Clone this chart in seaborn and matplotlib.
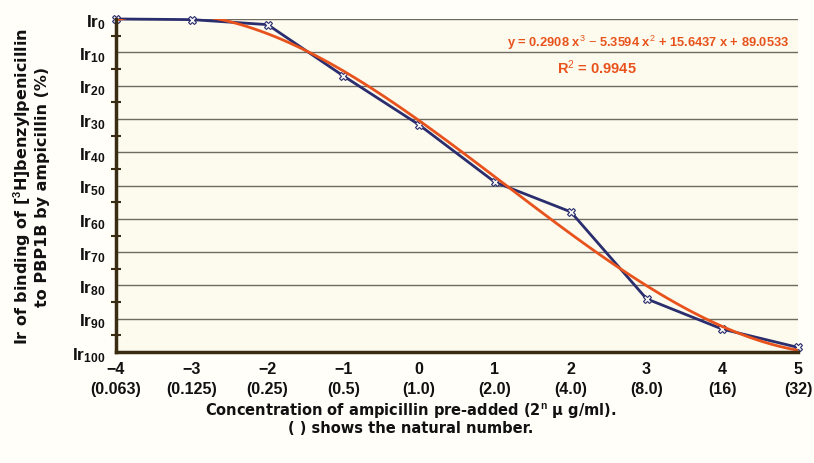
import matplotlib
matplotlib.use("Agg")
import matplotlib.pyplot as plt
import seaborn as sns
import numpy as np
import pandas as pd
from matplotlib.ticker import MultipleLocator

# log2 of ampicillin concentration and Ir (%)
conc_n = [-4, -3, -2, -1, 0, 1, 2, 3, 4, 5]
conc_nat = ["0.063", "0.125", "0.25", "0.5", "1.0", "2.0", "4.0", "8.0", "16", "32"]
ir_val = [0.0, 0.2, 1.7, 17.1, 31.8, 49.0, 57.9, 84.0, 93.1, 98.6]
ir_ticks = [0, 10, 20, 30, 40, 50, 60, 70, 80, 90, 100]

eq_text = r"y = 0.2908 x$^3$ $-$ 5.3594 x$^2$ + 15.6437 x + 89.0533"
r2_text = r"R$^2$ = 0.9945"

sns.set_style("white")
plt.rcParams['font.family'] = ['Liberation Sans', 'DejaVu Sans']
plt.rcParams['mathtext.fontset'] = 'custom'
plt.rcParams['mathtext.rm'] = 'Liberation Sans'
plt.rcParams['mathtext.bf'] = 'Liberation Sans:bold'
plt.rcParams['mathtext.it'] = 'Liberation Sans:italic'

df = pd.DataFrame({"n": conc_n, "ir": ir_val})

fig = plt.figure(figsize=(8.14, 4.64), dpi=100, facecolor="#fffef8")
ax = fig.add_axes([0.1425, 0.239, 0.838, 0.718])
ax.set_facecolor("#fcfbee")

navy = "#2b2e6e"
orange = "#e8521c"
axcol = "#3a2c12"

sns.lineplot(data=df, x="n", y="ir", ax=ax, color=navy, lw=2, marker="X",
             markersize=6, markerfacecolor="#f4f4f4", markeredgecolor=navy,
             markeredgewidth=0.8, clip_on=False, zorder=3)
sns.regplot(data=df, x="n", y="ir", ax=ax, order=3, ci=None, scatter=False,
            line_kws={"color": orange, "lw": 2, "zorder": 4})

ax.set_xlim(-4, 5)
ax.set_ylim(100, 0)

ax.set_yticks(ir_ticks)
ax.set_yticklabels([r"Ir$_{\mathbf{%d}}$" % v for v in ir_ticks])
ax.yaxis.set_minor_locator(MultipleLocator(5))
ax.set_xticks(conc_n)
ax.set_xticklabels(["%s\n(%s)" % (("\u2212%d" % -v) if v < 0 else str(v), s)
                    for v, s in zip(conc_n, conc_nat)])

ax.grid(axis="y", which="major", color="#6e6a60", lw=1)
ax.grid(axis="x", visible=False)
for s in ["top", "right"]:
    ax.spines[s].set_visible(False)
for s in ["left", "bottom"]:
    ax.spines[s].set_color(axcol)
    ax.spines[s].set_linewidth(2.5)
    ax.spines[s].set_zorder(5)

ax.tick_params(axis="y", which="major", direction="inout", length=9, width=2,
               color=axcol, labelsize=12.5, pad=3)
ax.tick_params(axis="y", which="minor", direction="inout", length=7, width=1.5,
               color=axcol, left=True)
ax.tick_params(axis="x", which="major", direction="inout", length=9, width=2,
               color=axcol, labelsize=11.5, pad=2)
for lab in ax.get_yticklabels():
    lab.set_fontweight("bold")
    lab.set_color("#111111")
for lab in ax.get_xticklabels():
    lab.set_fontweight("bold")
    lab.set_color("#111111")
    lab.set_linespacing(1.4)

ax.set_xlabel("Concentration of ampicillin pre-added (2$^\\mathbf{n}$ \u03bc g/ml).\n( ) shows the natural number.",
              fontsize=10.5, fontweight="bold", color="#111111", linespacing=1.1,
              family=["DejaVu Sans"])
ax.xaxis.set_label_coords(0.432, -0.144)
ax.set_ylabel("Ir of binding of [$^\\mathbf{3}$H]benzylpenicillin\nto PBP1B by ampicillin (%)",
              fontsize=11.5, fontweight="bold", color="#111111", linespacing=1.15,
              family=["DejaVu Sans"])
ax.yaxis.set_label_coords(-0.097, 0.5)

ax.text(3.02, 6.9, eq_text, color=orange, fontsize=9.3, fontweight="bold",
        ha="center", va="center")
ax.text(2.34, 14.4, r2_text, color=orange, fontsize=10.5, fontweight="bold",
        ha="center", va="center")

fig.savefig("out.png", dpi=100, facecolor=fig.get_facecolor())
